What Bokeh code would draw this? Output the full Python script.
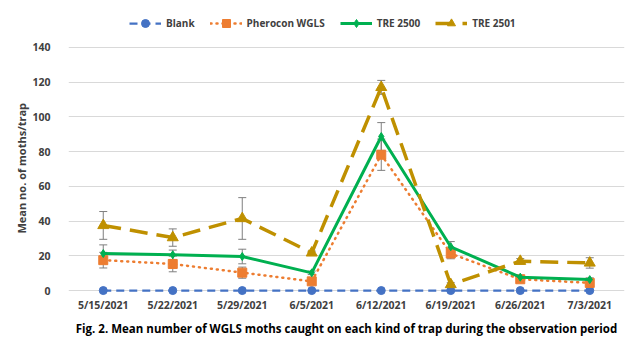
from bokeh.plotting import figure
from bokeh.models import (ColumnDataSource, Range1d, FixedTicker, Legend, LegendItem,
                          Whisker, TeeHead, Title)
from bokeh.embed import file_html
from bokeh.resources import INLINE

dates = ["5/15/2021", "5/22/2021", "5/29/2021", "6/5/2021",
         "6/12/2021", "6/19/2021", "6/26/2021", "7/3/2021"]
blank = [0, 0, 0, 0, 0, 0, 0, 0]
pherocon = [17.5, 15.3, 10.3, 5.3, 78.2, 21.3, 6.5, 4.4]
pherocon_err = [4.5, 4.5, 3.2, 2.0, 9.0, 3.0, 1.0, 1.0]
tre2500 = [21.3, 20.6, 19.6, 10.2, 88.7, 25.2, 7.7, 6.3]
tre2500_err = [5.0, 2.7, 4.2, 1.0, 8.0, 3.0, 1.0, 1.0]
tre2501 = [37.5, 30.5, 41.5, 21.7, 117.0, 3.5, 16.9, 15.9]
tre2501_err = [8.0, 5.0, 12.0, 1.0, 4.0, 1.0, 1.5, 3.0]
y_ticks = [0, 20, 40, 60, 80, 100, 120, 140]

FONT = "Open Sans"
TXT = "#404040"

p = figure(width=640, height=339, x_range=dates, y_range=Range1d(-4, 162.4),
           output_backend="svg", toolbar_location=None,
           min_border_left=68, min_border_right=16, min_border_top=8, min_border_bottom=42)
p.outline_line_color = None
p.background_fill_color = "white"
p.border_fill_color = "white"

p.xgrid.grid_line_color = None
p.ygrid.grid_line_color = "#d9d9d9"
p.ygrid.grid_line_width = 1
p.yaxis.ticker = FixedTicker(ticks=y_ticks)

for ax in (p.xaxis, p.yaxis):
    ax.axis_line_color = None
    ax.major_tick_line_color = None
    ax.minor_tick_line_color = None
    ax.major_label_text_font = FONT
    ax.major_label_text_font_style = "bold"
    ax.major_label_text_font_size = "10.5px"
    ax.major_label_text_color = TXT
p.xaxis.major_label_standoff = -6
p.yaxis.major_label_standoff = 12

ytitle = Title(text="Mean no. of moths/trap", align="left", offset=64, standoff=2,
               text_font=FONT, text_font_style="bold", text_font_size="11px",
               text_color=TXT)
p.add_layout(ytitle, "left")

src = ColumnDataSource(dict(
    x=dates, blank=blank,
    ph=pherocon, ph_lo=[v - e for v, e in zip(pherocon, pherocon_err)],
    ph_hi=[v + e for v, e in zip(pherocon, pherocon_err)],
    t0=tre2500, t0_lo=[v - e for v, e in zip(tre2500, tre2500_err)],
    t0_hi=[v + e for v, e in zip(tre2500, tre2500_err)],
    t1=tre2501, t1_lo=[v - e for v, e in zip(tre2501, tre2501_err)],
    t1_hi=[v + e for v, e in zip(tre2501, tre2501_err)],
))

for lo, hi in (("ph_lo", "ph_hi"), ("t0_lo", "t0_hi"), ("t1_lo", "t1_hi")):
    w = Whisker(source=src, base="x", lower=lo, upper=hi, line_color="#7f7f7f", line_width=1,
                upper_head=TeeHead(size=8, line_color="#7f7f7f", line_width=1),
                lower_head=TeeHead(size=8, line_color="#7f7f7f", line_width=1))
    w.level = "underlay"
    p.add_layout(w)

BLUE, ORANGE, GREEN, GOLD = "#4472C4", "#ED7D31", "#00B050", "#BF9000"

l1 = p.line("x", "blank", source=src, line_color=BLUE, line_width=2.25, line_dash="8 5")
m1 = p.scatter("x", "blank", source=src, marker="circle", size=8, fill_color=BLUE, line_color=BLUE)

l2 = p.line("x", "ph", source=src, line_color=ORANGE, line_width=2.5, line_dash="1 5",
            line_cap="round")
m2 = p.scatter("x", "ph", source=src, marker="square", size=9, fill_color=ORANGE, line_color=ORANGE)

l3 = p.line("x", "t0", source=src, line_color=GREEN, line_width=3)
m3 = p.scatter("x", "t0", source=src, marker="diamond", size=8, fill_color=GREEN, line_color=GREEN)

l4 = p.line("x", "t1", source=src, line_color=GOLD, line_width=3.5, line_dash="18 9")
m4 = p.scatter("x", "t1", source=src, marker="triangle", size=11, fill_color=GOLD, line_color=GOLD)

legend = Legend(items=[
    LegendItem(label="Blank", renderers=[l1, m1]),
    LegendItem(label="Pherocon WGLS", renderers=[l2, m2]),
    LegendItem(label="TRE 2500", renderers=[l3, m3]),
    LegendItem(label="TRE 2501", renderers=[l4, m4]),
], orientation="horizontal", location=(61, 264), border_line_color=None,
   background_fill_alpha=0, label_text_font=FONT, label_text_font_style="bold",
   label_text_font_size="10px", label_text_color=TXT, glyph_width=32,
   spacing=15, label_standoff=5, padding=4, margin=0)
p.add_layout(legend)

cap = Title(text="Fig. 2. Mean number of WGLS moths caught on each kind of trap during the observation period",
            align="center", text_font=FONT, text_font_style="bold", text_font_size="11.5px",
            text_color="#000000", standoff=8)
p.add_layout(cap, "below")

open("out.html", "w").write(file_html(p, INLINE))
